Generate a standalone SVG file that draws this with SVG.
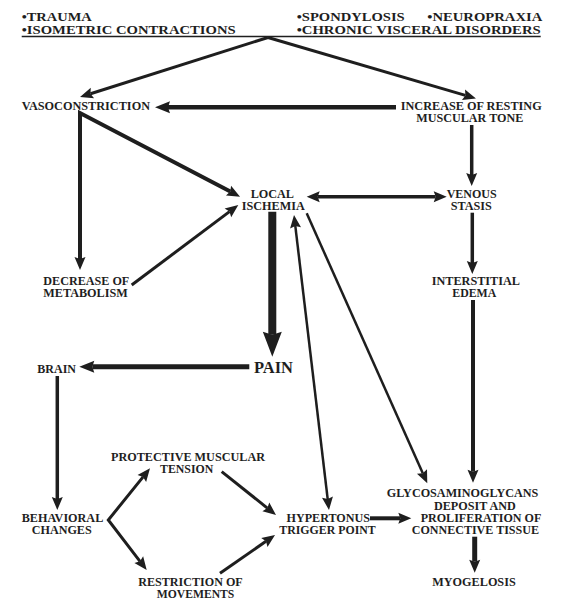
<svg xmlns="http://www.w3.org/2000/svg" width="574" height="604" viewBox="0 0 574 604">
<style>
text{font-family:"Liberation Serif","Times New Roman",serif;font-weight:bold;fill:#1e1e1e;font-size:13px}
.top{font-size:12.5px}
.pain{font-size:17px}
.c{fill:none;stroke:#1e1e1e;stroke-linecap:butt;stroke-linejoin:miter}
</style>
<defs>
<marker id="ah" markerUnits="userSpaceOnUse" markerWidth="13" markerHeight="11" refX="2" refY="5.5" orient="auto-start-reverse" overflow="visible"><path d="M0,0 L13,5.5 L0,11 L2,5.5 z" fill="#1e1e1e"/></marker>
<marker id="ahM" markerUnits="userSpaceOnUse" markerWidth="15" markerHeight="12" refX="2" refY="6" orient="auto" overflow="visible"><path d="M0,0 L15,6 L0,12 L2,6 z" fill="#1e1e1e"/></marker>
<marker id="ahL" markerUnits="userSpaceOnUse" markerWidth="25" markerHeight="19" refX="3" refY="9.5" orient="auto" overflow="visible"><path d="M0,0 L25,9.5 L0,19 L3,9.5 z" fill="#1e1e1e"/></marker>
</defs>
<rect width="574" height="604" fill="#fff"/>

<g id="causes">
<text class="top" x="21.7" y="20.7" textLength="70" lengthAdjust="spacingAndGlyphs">•TRAUMA</text>
<text class="top" x="21.7" y="34" textLength="214" lengthAdjust="spacingAndGlyphs">•ISOMETRIC CONTRACTIONS</text>
<text class="top" x="296.7" y="20.7" textLength="108" lengthAdjust="spacingAndGlyphs">•SPONDYLOSIS</text>
<text class="top" x="427.3" y="20.7" textLength="115" lengthAdjust="spacingAndGlyphs">•NEUROPRAXIA</text>
<text class="top" x="296.7" y="34" textLength="244" lengthAdjust="spacingAndGlyphs">•CHRONIC VISCERAL DISORDERS</text>
<line x1="21.7" y1="36.5" x2="540.7" y2="36.5" stroke="#1e1e1e" stroke-width="1.3"/>
</g>

<g id="vasoconstriction"><text x="21.7" y="110" textLength="128.3" lengthAdjust="spacingAndGlyphs">VASOCONSTRICTION</text></g>
<g id="increase-tone">
<text x="400.7" y="110" textLength="141" lengthAdjust="spacingAndGlyphs">INCREASE OF RESTING</text>
<text x="416.3" y="121.5" textLength="107" lengthAdjust="spacingAndGlyphs">MUSCULAR TONE</text>
</g>
<g id="decrease-metabolism">
<text x="43.3" y="285" textLength="86" lengthAdjust="spacingAndGlyphs">DECREASE OF</text>
<text x="43.3" y="297" textLength="84.4" lengthAdjust="spacingAndGlyphs">METABOLISM</text>
</g>
<g id="local-ischemia">
<text x="250.7" y="197.5" textLength="43.3" lengthAdjust="spacingAndGlyphs">LOCAL</text>
<text x="241.7" y="210" textLength="63" lengthAdjust="spacingAndGlyphs">ISCHEMIA</text>
</g>
<g id="venous-stasis">
<text x="446.7" y="197.5" textLength="50" lengthAdjust="spacingAndGlyphs">VENOUS</text>
<text x="450.7" y="210" textLength="41" lengthAdjust="spacingAndGlyphs">STASIS</text>
</g>
<g id="interstitial-edema">
<text x="431.7" y="285" textLength="88.3" lengthAdjust="spacingAndGlyphs">INTERSTITIAL</text>
<text x="452.3" y="297" textLength="44" lengthAdjust="spacingAndGlyphs">EDEMA</text>
</g>
<g id="brain"><text x="37.3" y="372.7" textLength="38.7" lengthAdjust="spacingAndGlyphs">BRAIN</text></g>
<g id="pain"><text class="pain" x="254" y="372.7" textLength="39" lengthAdjust="spacingAndGlyphs">PAIN</text></g>
<g id="protective-tension">
<text x="111" y="460.7" textLength="154" lengthAdjust="spacingAndGlyphs">PROTECTIVE MUSCULAR</text>
<text x="160" y="472.5" textLength="53.3" lengthAdjust="spacingAndGlyphs">TENSION</text>
</g>
<g id="behavioral-changes">
<text x="21.7" y="521.7" textLength="81.6" lengthAdjust="spacingAndGlyphs">BEHAVIORAL</text>
<text x="31.7" y="534" textLength="60" lengthAdjust="spacingAndGlyphs">CHANGES</text>
</g>
<g id="hypertonus">
<text x="286.5" y="521.7" textLength="83.5" lengthAdjust="spacingAndGlyphs">HYPERTONUS</text>
<text x="279.3" y="534" textLength="96.4" lengthAdjust="spacingAndGlyphs">TRIGGER POINT</text>
</g>
<g id="glycosaminoglycans">
<text x="386.7" y="497.3" textLength="151.6" lengthAdjust="spacingAndGlyphs">GLYCOSAMINOGLYCANS</text>
<text x="434" y="509.5" textLength="81.7" lengthAdjust="spacingAndGlyphs">DEPOSIT AND</text>
<text x="420.7" y="521.7" textLength="120.6" lengthAdjust="spacingAndGlyphs">PROLIFERATION OF</text>
<text x="411.7" y="534" textLength="127.3" lengthAdjust="spacingAndGlyphs">CONNECTIVE TISSUE</text>
</g>
<g id="restriction-movements">
<text x="138.3" y="586" textLength="104.4" lengthAdjust="spacingAndGlyphs">RESTRICTION OF</text>
<text x="156.7" y="597.7" textLength="77.6" lengthAdjust="spacingAndGlyphs">MOVEMENTS</text>
</g>
<g id="myogelosis"><text x="432.3" y="585.7" textLength="83.4" lengthAdjust="spacingAndGlyphs">MYOGELOSIS</text></g>

<g id="connectors">
<path class="c" stroke-width="3" d="M268,37.5 L90.5,93.7" marker-end="url(#ah)"/>
<path class="c" stroke-width="3" d="M268,37.5 L465.4,95.4" marker-end="url(#ah)"/>
<path class="c" stroke-width="4.5" d="M396,107.3 L168,107.3" marker-end="url(#ahM)"/>
<path class="c" stroke-width="4" d="M80,259 L80,113 L230.3,191.6" marker-start="url(#ah)" marker-end="url(#ah)"/>
<path class="c" stroke-width="3" d="M131.7,285 L229.5,211.6" marker-end="url(#ah)"/>
<path class="c" stroke-width="8" d="M272.3,211.7 L272.3,334.7" marker-end="url(#ahL)"/>
<path class="c" stroke-width="5" d="M249.3,366.7 L92.3,366.7" marker-end="url(#ahM)"/>
<path class="c" stroke-width="3.5" d="M317.7,196.7 L435.7,196.7" marker-start="url(#ah)" marker-end="url(#ah)"/>
<path class="c" stroke-width="3.5" d="M471.7,125 L471.7,175" marker-end="url(#ah)"/>
<path class="c" stroke-width="3.5" d="M472.3,212.7 L472.3,263" marker-end="url(#ah)"/>
<path class="c" stroke-width="4" d="M473,300 L473,471.7" marker-end="url(#ah)"/>
<path class="c" stroke-width="2.5" d="M295.3,225.9 L327.7,499.1" marker-start="url(#ah)" marker-end="url(#ah)"/>
<path class="c" stroke-width="2.5" d="M306.7,213.3 L422.8,473.3" marker-end="url(#ah)"/>
<path class="c" stroke-width="3.5" d="M57.3,376 L57.3,499" marker-end="url(#ah)"/>
<path class="c" stroke-width="3" d="M143.1,476.9 L108.3,520 L140,561.3" marker-start="url(#ah)" marker-end="url(#ah)"/>
<path class="c" stroke-width="3" d="M221.7,471.7 L267.4,508.1" marker-end="url(#ah)"/>
<path class="c" stroke-width="3" d="M220,573.3 L266,541.3" marker-end="url(#ah)"/>
<path class="c" stroke-width="4" d="M370,518.3 L400.3,518.3" marker-end="url(#ah)"/>
<path class="c" stroke-width="5" d="M474.7,536.7 L474.7,561.7" marker-end="url(#ah)"/>
</g>
</svg>
